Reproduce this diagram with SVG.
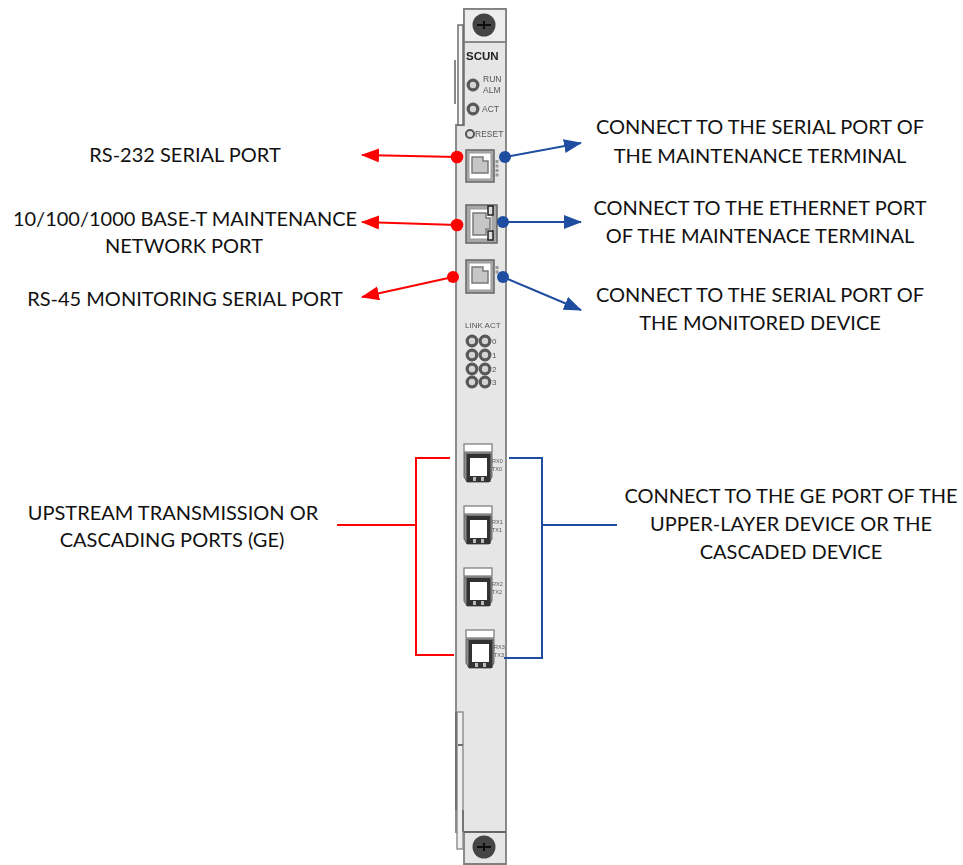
<svg xmlns="http://www.w3.org/2000/svg" width="963" height="865" viewBox="0 0 963 865">
<defs>
<filter id="b" x="-5%" y="-5%" width="110%" height="110%"><feGaussianBlur stdDeviation="0.6"/></filter>
<marker id="ar" markerUnits="userSpaceOnUse" markerWidth="20" markerHeight="16" refX="17" refY="7" orient="auto"><path d="M0 0L18 7L0 14Z" fill="#ff0000"/></marker>
<marker id="ab" markerUnits="userSpaceOnUse" markerWidth="20" markerHeight="16" refX="17" refY="7" orient="auto"><path d="M0 0L18 7L0 14Z" fill="#1f4ea1"/></marker>
<g id="sfp"><rect x="0" y="0" width="28" height="8" fill="#fff" stroke="#777" stroke-width="1.2"/><path d="M0 9H28V33L25 38H3L0 33Z" fill="#8c8c8c" stroke="#666"/><rect x="2.5" y="10" width="24" height="28" fill="#333"/><rect x="6" y="14" width="17" height="18" fill="#fff"/><rect x="9" y="33" width="3" height="4" fill="#bbb"/><rect x="17" y="33" width="3" height="4" fill="#bbb"/></g>
<g id="led"><circle r="4.8" fill="#d4d4d4" stroke="#585858" stroke-width="3.2"/></g>
</defs>
<style>
.lb{font-family:Lato,"Open Sans",sans-serif;font-size:20px;fill:#111;text-anchor:middle}
.pt{font-family:"Liberation Sans",Arial,sans-serif;fill:#555}
.r{stroke:#ff0000;stroke-width:2;fill:none}
.u{stroke:#1f4ea1;stroke-width:2;fill:none}
.rd{fill:#ff0000}.bd{fill:#1f4ea1}
.po{fill:#a8a8a8;stroke:#666;stroke-width:1.5}
.pi{fill:#fff;stroke:#999;stroke-width:1}
.pp{fill:#c6c6c6;stroke:#7a7a7a;stroke-width:1.5}
</style>
<rect width="963" height="865" fill="#fff"/>
<g id="panel" filter="url(#b)">
<path d="M464 9H506V864H464V832H456V125H464Z" fill="#e6e6e6" stroke="#808080" stroke-width="1.8"/>
<rect x="464" y="9" width="42" height="33" fill="#ededed" stroke="#808080" stroke-width="1.8"/>
<path d="M464 832H506" stroke="#666" stroke-width="1.8"/>
<rect x="458" y="25" width="5" height="100" fill="#f6f6f6" stroke="#666" stroke-width="1.4"/>
<path d="M455 60V104" stroke="#888" stroke-width="2"/>
<rect x="457" y="712" width="6" height="137" fill="#f0f0f0" stroke="#8a8a8a" stroke-width="1.4"/>
<path d="M456 712V810M463 810V832M458 745H463" stroke="#6f6f6f" stroke-width="1.8"/>
<circle cx="484" cy="25" r="11.5" fill="#454545"/><path d="M477 25H491M484 21V29" stroke="#0a0a0a" stroke-width="1.8"/>
<circle cx="484" cy="847" r="11.5" fill="#454545"/><path d="M477 847H491M484 843V851" stroke="#0a0a0a" stroke-width="1.8"/>
<text x="466" y="60" class="pt" font-size="11.5" font-weight="700" style="fill:#222">SCUN</text>
<use href="#led" x="473" y="85"/><use href="#led" x="473" y="109"/>
<circle cx="470" cy="134" r="4" fill="#ddd" stroke="#555" stroke-width="2"/>
<text x="483" y="82" class="pt" font-size="8.5">RUN</text><text x="483" y="93" class="pt" font-size="8.5">ALM</text>
<text x="482" y="112" class="pt" font-size="8.5">ACT</text><text x="475" y="137" class="pt" font-size="8.5">RESET</text>
<rect class="po" x="466" y="150" width="28" height="32"/><rect class="pi" x="469" y="153" width="22" height="26"/><path class="pp" d="M472 157H483V161H488V173H472Z"/>
<rect class="po" x="466" y="205" width="31" height="38"/><rect class="pi" x="470" y="209" width="22" height="30"/><path class="pp" d="M473 213H486V218H490V229H486V235H473Z"/>
<rect x="488" y="206" width="5" height="9" fill="#ddd" stroke="#222" stroke-width="1.5"/><rect x="488" y="231" width="5" height="9" fill="#ddd" stroke="#222" stroke-width="1.5"/>
<rect class="po" x="466" y="260" width="28" height="33"/><rect class="pi" x="469" y="263" width="22" height="27"/><path class="pp" d="M472 267H483V271H488V283H472Z"/>
<path d="M497 160V178" stroke="#999" stroke-width="3" stroke-dasharray="3 1.5"/>
<path d="M497 266V274" stroke="#999" stroke-width="3" stroke-dasharray="3 1.5"/>
<text x="465" y="328" class="pt" font-size="8">LINK ACT</text>
<use href="#led" x="472" y="341"/><use href="#led" x="485" y="341"/><use href="#led" x="472" y="355"/><use href="#led" x="485" y="355"/>
<use href="#led" x="472" y="369"/><use href="#led" x="485" y="369"/><use href="#led" x="472" y="382"/><use href="#led" x="485" y="382"/>
<text x="492" y="344" class="pt" font-size="8">0</text><text x="492" y="358" class="pt" font-size="8">1</text><text x="492" y="372" class="pt" font-size="8">2</text><text x="492" y="385" class="pt" font-size="8">3</text>
<use href="#sfp" x="464" y="444"/><use href="#sfp" x="464" y="506"/><use href="#sfp" x="464" y="568"/><use href="#sfp" x="466" y="630"/>
<text x="492" y="463" class="pt" font-size="5.5">RX0</text><text x="492" y="471" class="pt" font-size="5.5">TX0</text>
<text x="492" y="524" class="pt" font-size="5.5">RX1</text><text x="492" y="532" class="pt" font-size="5.5">TX1</text>
<text x="492" y="586" class="pt" font-size="5.5">RX2</text><text x="492" y="594" class="pt" font-size="5.5">TX2</text>
<text x="494" y="649" class="pt" font-size="5.5">RX3</text><text x="494" y="657" class="pt" font-size="5.5">TX3</text>
</g>
<g id="connectors">
<path class="r" d="M457 157L362 155" marker-end="url(#ar)"/>
<path class="r" d="M457 225L362 222" marker-end="url(#ar)"/>
<path class="r" d="M453 277L362 297" marker-end="url(#ar)"/>
<path class="u" d="M505 157L581 143" marker-end="url(#ab)"/>
<path class="u" d="M503 222H581" marker-end="url(#ab)"/>
<path class="u" d="M503 277L581 310" marker-end="url(#ab)"/>
<circle class="rd" cx="457" cy="157" r="6.3"/><circle class="rd" cx="457" cy="225" r="6.3"/><circle class="rd" cx="453" cy="277" r="6"/>
<circle class="bd" cx="505" cy="157" r="6"/><circle class="bd" cx="503" cy="222" r="6"/><circle class="bd" cx="503" cy="277" r="6"/>
<path class="r" d="M450 458H416V655H454M337 525H416"/>
<path class="u" d="M509 458H542V658H504M542 525H617"/>
</g>
<g id="labels">
<text class="lb" x="185" y="162">RS-232 SERIAL PORT</text>
<text class="lb" x="185" y="226">10/100/1000 BASE-T MAINTENANCE</text>
<text class="lb" x="184" y="253">NETWORK PORT</text>
<text class="lb" x="185" y="306">RS-45 MONITORING SERIAL PORT</text>
<text class="lb" x="173" y="520">UPSTREAM TRANSMISSION OR</text>
<text class="lb" x="172" y="547">CASCADING PORTS (GE)</text>
<text class="lb" x="760" y="134">CONNECT TO THE SERIAL PORT OF</text>
<text class="lb" x="760" y="163">THE MAINTENANCE TERMINAL</text>
<text class="lb" x="760" y="215">CONNECT TO THE ETHERNET PORT</text>
<text class="lb" x="760" y="243">OF THE MAINTENACE TERMINAL</text>
<text class="lb" x="760" y="302">CONNECT TO THE SERIAL PORT OF</text>
<text class="lb" x="760" y="330">THE MONITORED DEVICE</text>
<text class="lb" x="791" y="503">CONNECT TO THE GE PORT OF THE</text>
<text class="lb" x="791" y="531">UPPER-LAYER DEVICE OR THE</text>
<text class="lb" x="791" y="559">CASCADED DEVICE</text>
</g>
</svg>
